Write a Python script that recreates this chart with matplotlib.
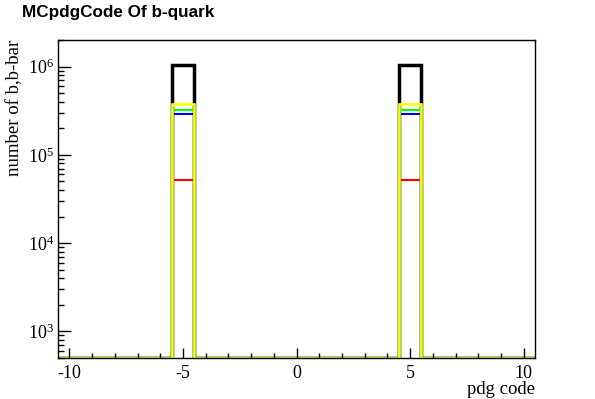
import numpy as np
import matplotlib
matplotlib.use("Agg")
import matplotlib.pyplot as plt
from matplotlib.ticker import FixedLocator, LogLocator, NullFormatter

plt.rcParams['mathtext.fontset'] = 'custom'
plt.rcParams['mathtext.rm'] = 'Liberation Serif'
plt.rcParams['mathtext.it'] = 'Liberation Serif:italic'

# ---- data ----
bin_edges = np.arange(-10.5, 11.0, 1.0)
pdg_codes = [-5, 5]
counts_black = [1.05e6, 1.05e6]
counts_yellow = [3.8e5, 3.8e5]
counts_green = [3.2e5, 3.2e5]
counts_blue = [2.9e5, 2.9e5]
counts_red = [5.2e4, 5.2e4]
x_tick_labels = ["-10", "-5", "0", "5", "10"]
x_tick_values = [-10, -5, 0, 5, 10]

ymin, ymax = 500, 2.0e6

def full_hist(vals):
    centers = (bin_edges[:-1] + bin_edges[1:]) / 2
    h = np.zeros(len(centers))
    for c, v in zip(pdg_codes, vals):
        h[np.argmin(np.abs(centers - c))] = v
    # empty bins drawn at the bottom of the log axis (ROOT style)
    return np.where(h > 0, h, ymin * 1.01)

fig = plt.figure(figsize=(5.95, 3.99), dpi=100)
ax = fig.add_axes([58/595, 1-358/399, (535-58)/595, (358-40)/399])
ax.set_yscale('log')

series = [
    (counts_black, 'black', 2.5),
    (counts_red, '#ff0000', 1.5),
    (counts_blue, '#0000ff', 1.5),
    (counts_green, '#00ff00', 1.5),
    (counts_yellow, '#ffff00', 1.9),
]
for vals, col, lw in series:
    ax.stairs(full_hist(vals), bin_edges, baseline=None, color=col, linewidth=lw)

ax.set_xlim(-10.5, 10.5)
ax.set_ylim(ymin, ymax)

serif = 'Liberation Serif'
ax.xaxis.set_major_locator(FixedLocator(x_tick_values))
ax.xaxis.set_minor_locator(FixedLocator(np.arange(-10, 11, 1)))
ax.set_xticklabels(x_tick_labels, fontfamily=serif, fontsize=13)
ax.yaxis.set_minor_locator(LogLocator(base=10, subs=np.arange(2, 10), numticks=20))
ax.yaxis.set_minor_formatter(NullFormatter())
ax.set_yticks([1e3, 1e4, 1e5, 1e6])
ax.set_yticklabels([r'$10^{3}$', r'$10^{4}$', r'$10^{5}$', r'$10^{6}$'], fontsize=13)

ax.tick_params(axis='x', which='major', direction='in', length=7, width=1, pad=5,
               top=False, bottom=True)
ax.tick_params(axis='x', which='minor', direction='in', length=3.5, width=1,
               top=False, bottom=True)
ax.tick_params(axis='y', which='major', direction='in', length=9, width=1, pad=3,
               left=True, right=False)
ax.tick_params(axis='y', which='minor', direction='in', length=4.5, width=1,
               left=True, right=False)
for s in ax.spines.values():
    s.set_linewidth(1)

fig.text(22/595, 1-13/399, 'MCpdgCode Of b-quark', fontfamily='Liberation Sans',
         fontweight='bold', fontsize=12.3, ha='left', va='center')
fig.text(535/595, 1/399, 'pdg code', fontfamily=serif, fontsize=13.5,
         ha='right', va='bottom')
fig.text(15/595, 1-40/399, 'number of b,b-bar', fontfamily=serif, fontsize=13.5,
         rotation=90, ha='center', va='top')

fig.savefig('out.png', dpi=100)
